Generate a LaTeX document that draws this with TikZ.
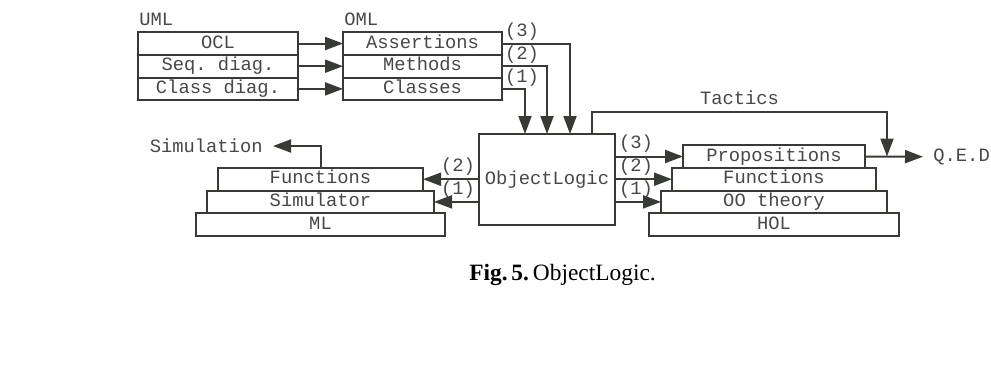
\documentclass[tikz,border=0pt]{standalone}
\usepackage{fontspec}
\setmainfont{Liberation Serif}
\setmonofont{Liberation Mono}
\usepackage{xcolor}
\usepackage{tikz}
\usetikzlibrary{calc}
\usetikzlibrary{positioning}
\usetikzlibrary{arrows.meta}
\definecolor{linegray}{HTML}{383A36}
\definecolor{textgray}{HTML}{474747}

\begin{document}
\begin{tikzpicture}[x=0.5pt,y=-0.5pt,
	every node/.style={font=\fontsize{9.4}{11}\selectfont\ttfamily,text=textgray},
	layer/.style={draw=linegray,line width=1pt,rectangle,inner sep=0pt,outer sep=0pt,minimum height=11.35pt,text height=6.4pt,text depth=1.9pt},
	arr/.style={draw=linegray,line width=1pt,-{Triangle[length=9pt,width=6.5pt]}},
	num/.style={inner sep=1.5pt}]
	
	\useasboundingbox (0,0) rectangle (991,372);
	
	% UML layers
	\node[layer,minimum width=80pt] (ocl) at (218,43.5) {OCL};
	\node[layer,minimum width=80pt] (seq) [below=0pt of ocl] {Seq. diag.};
	\node[layer,minimum width=80pt] (cld) [below=0pt of seq] {Class diag.};
	\node[inner sep=0pt] (uml) [above right=3pt and 0.5pt of ocl.north west] {UML};
	
	% OML layers
	\node[layer,minimum width=79.5pt] (asrt) at (422.5,43.5) {Assertions};
	\node[layer,minimum width=79.5pt] (meth) [below=0pt of asrt] {Methods};
	\node[layer,minimum width=79.5pt] (clss) [below=0pt of meth] {Classes};
	\node[inner sep=0pt] (oml) [above right=3pt and 0.5pt of asrt.north west] {OML};
	
	% UML to OML
	\draw[arr] (ocl) -- (asrt);
	\draw[arr] (seq) -- (meth);
	\draw[arr] (cld) -- (clss);
	
	% ObjectLogic
	\node[draw=linegray,line width=1pt,inner sep=0pt,outer sep=0pt,minimum width=68pt,minimum height=45.5pt] (objl) at (547,179.5) {ObjectLogic};
	
	% OML to ObjectLogic
	\draw[arr] (asrt.east) node[num,anchor=south west,inner sep=1pt] {(3)} -| ($(objl.north)+(23,0)$);
	\draw[arr] (meth.east) node[num,anchor=south west,inner sep=1pt] {(2)} -| (objl.north);
	\draw[arr] (clss.east) node[num,anchor=south west,inner sep=1pt] {(1)} -| ($(objl.north)+(-22,0)$);
	
	% ML stack
	\node[layer,minimum width=124.5pt] (ml) at (320.5,224.6) {ML};
	\node[layer,minimum width=113.5pt] (simr) [above=0pt of ml] {Simulator};
	\node[layer,minimum width=102.5pt] (lfun) [above=0pt of simr] {Functions};
	
	% HOL stack
	\node[layer,minimum width=125pt] (hol) at (774,224.6) {HOL};
	\node[layer,minimum width=113pt] (oot) [above=0pt of hol] {OO theory};
	\node[layer,minimum width=102pt] (rfun) [above=0pt of oot] {Functions};
	\node[layer,minimum width=91pt] (prop) [above=0pt of rfun] {Propositions};
	
	% ObjectLogic to ML
	\draw[arr] (objl.west |- lfun) node[num,anchor=south east] {(2)} -- (lfun.east);
	\draw[arr] (objl.west |- simr) node[num,anchor=south east] {(1)} -- (simr.east);
	
	% ObjectLogic to HOL
	\draw[arr] (objl.east |- prop) node[num,anchor=south west] {(3)} -- (prop.west);
	\draw[arr] (objl.east |- rfun) node[num,anchor=south west] {(2)} -- (rfun.west);
	\draw[arr] (objl.east |- oot) node[num,anchor=south west] {(1)} -- (oot.west);
	
	% outputs
	\node[anchor=east,inner sep=5pt] (simu) at (273,146) {Simulation};
	\draw[arr] (lfun.north) |- (simu.east);
	\node[anchor=west,inner sep=5pt] (qed) at (923,156.7) {Q.E.D};
	\draw[arr] (prop.east) -- (qed.west);
	\coordinate (tac) at (887,112);
	\draw[arr] ($(objl.north)+(45,0)$) |- node[pos=0.75,above] {Tactics} (tac) -- (tac |- prop);
	
	% caption
	\node[font=\fontsize{11.7}{14}\selectfont\rmfamily,text=black] (cap) at (562.5,275) {\textbf{Fig.\,5.}\,ObjectLogic.};
	
\end{tikzpicture}
\end{document}
